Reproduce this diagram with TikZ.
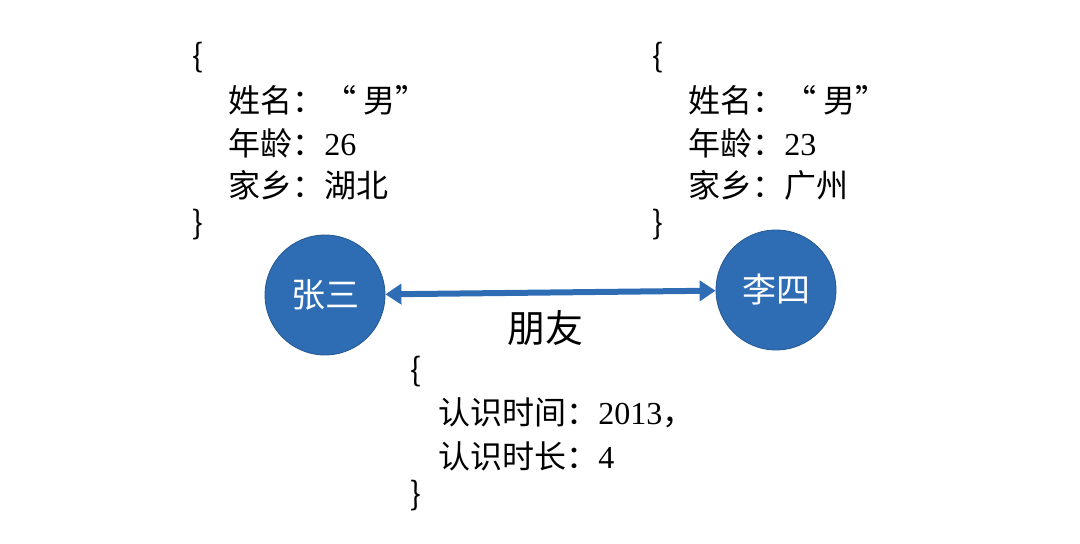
\documentclass[tikz,border=0pt]{standalone}
\usepackage{fontspec}
\setmainfont{Liberation Serif}
\newfontfamily\cjk{Noto Sans CJK SC}
\usetikzlibrary{positioning,arrows.meta}
\definecolor{nodeblue}{RGB}{46,109,180}
\tikzset{person/.style={circle,fill=nodeblue,draw=nodeblue!80!black,minimum size=60pt,inner sep=0pt,
  text=white,font=\cjk\fontsize{17}{17}\selectfont},
txt/.style={anchor=west,inner sep=0pt,font=\cjk\fontsize{16}{16}\selectfont},
rel/.style={nodeblue,line width=3pt,{Triangle[length=8pt,width=10pt]}-{Triangle[length=8pt,width=10pt]}}}
\begin{document}
\begin{tikzpicture}[x=0.5pt,y=-0.5pt]
  \useasboundingbox (0,0) rectangle (1080,544);
  \node (zs) [person] at (325,295) {张三};
  \node (ls) [person] at (776,290) {李四};
  \draw [rel] (zs) -- (ls);
  \node (rl) [font=\cjk\fontsize{19}{19}\selectfont] at (545,328) {朋友};

  % 张三
  \node (zo) [txt] at (192,58) {\{};
  \node (z1) [txt] at (228,100) {姓名：“ 男”};
  \node (z2) [txt] at (228,143) {年龄：{\rmfamily 26}};
  \node (z3) [txt] at (228,185) {家乡：湖北};
  \node (zc) [txt] at (192,225) {\}};
  % 李四
  \node (lo) [txt] at (652,58) {\{};
  \node (l1) [txt] at (688,100) {姓名：“ 男”};
  \node (l2) [txt] at (688,143) {年龄：{\rmfamily 23}};
  \node (l3) [txt] at (688,185) {家乡：广州};
  \node (lc) [txt] at (652,225) {\}};
  % 朋友
  \node (ro) [txt] at (410,372) {\{};
  \node (r1) [txt] at (438,413) {认识时间：{\rmfamily 2013}，};
  \node (r2) [txt] at (438,456) {认识时长：{\rmfamily 4}};
  \node (rc) [txt] at (410,496) {\}};
\end{tikzpicture}
\end{document}
